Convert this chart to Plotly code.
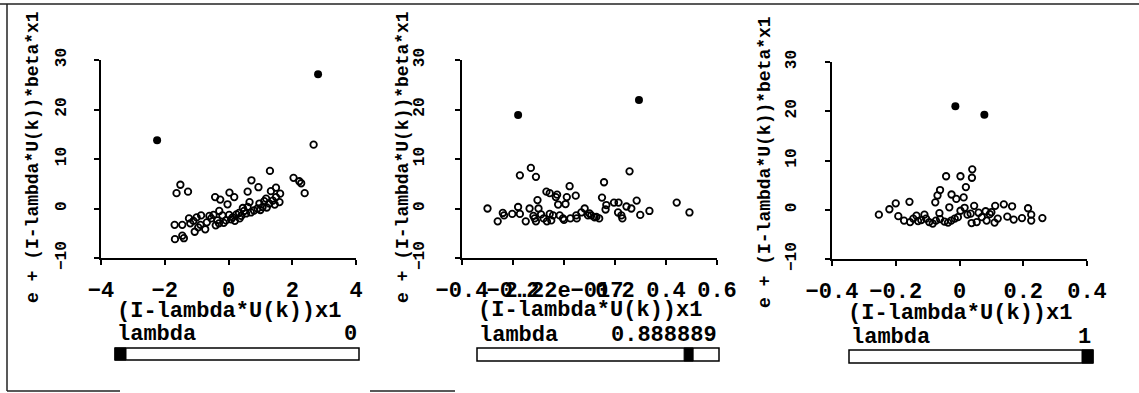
import plotly.graph_objects as go

W, H = 1139, 393
FONT = "Liberation Mono"

# ---------------- data ----------------
# panel 1 : lambda = 0
p1_open_x = [2.67, 1.30, 2.04, 2.22, 2.28, 2.39, -1.51, -1.63, -1.27, 0.72, 0.94, 0.60, 0.03, 0.18,
             -0.42, -0.26, -0.03, 1.33, 1.49, 1.62, -1.68, -1.45, -1.40, -1.69, -1.45, -1.24, -1.06,
             -1.00, -0.86, -0.73, -0.68, -0.40, -0.35, -0.47, -0.29, -0.19, -0.08, 0.02, 0.13, 0.25,
             0.33, 0.40, 0.49, 0.60, 0.66, 0.80, 0.91, 0.97, 1.07, 1.12, 1.18, 1.28, 1.39, 1.49, 1.60,
             -0.54, -0.88, -1.20, -1.10, -0.95, -0.60, -0.15, 0.08, 0.20, 0.35, 0.55, 0.70, 1.00, 1.20,
             1.45, -0.30, 0.45]
p1_open_y = [12.9, 7.6, 6.2, 5.5, 5.1, 3.1, 4.8, 3.1, 3.4, 5.7, 4.3, 3.4, 3.2, 2.3,
             2.3, 1.8, 0.85, 3.5, 4.2, 3.0, -6.2, -5.5, -6.0, -3.3, -3.3, -2.0, -4.7,
             -1.8, -1.4, -4.2, -2.8, -3.4, -2.4, -1.3, -0.5, -1.4, -2.4, -1.3, -1.8, -1.2,
             -0.9, -1.5, -0.5, 0.3, 1.3, -0.4, 0.0, 1.0, 0.3, 1.5, 2.0, 1.0, 1.6, 2.3, 1.3,
             -2.0, -3.3, -3.0, -2.5, -3.8, -1.5, -2.9, -2.2, -2.5, -2.0, -1.0, -0.8, -0.3, 0.2,
             0.8, -3.0, 0.1]
p1_fill_x = [-2.24, 2.81]
p1_fill_y = [13.8, 27.1]

# panel 2 : lambda = 0.888889
p2_open_x = [-0.30, -0.26, -0.24, -0.235, -0.203, -0.18, -0.173, -0.173, -0.13, -0.11, -0.15, -0.135,
             -0.115, -0.11, -0.104, -0.10, -0.09, -0.069, -0.056, -0.067, -0.056, -0.043, -0.032,
             -0.027, -0.023, -0.017, -0.004, 0.006, 0.011, 0.022, 0.025, 0.046, 0.048, 0.068, 0.081,
             0.094, 0.107, 0.127, 0.138, 0.149, 0.157, 0.166, 0.163, 0.196, 0.214, 0.212, 0.225,
             0.229, 0.245, 0.257, 0.264, 0.285, 0.299, 0.335, 0.442, 0.492, -0.08, 0.0, 0.05, 0.10,
             0.12, -0.12, -0.05]
p2_open_y = [0.0, -2.6, -0.9, -1.4, -1.1, 0.3, 6.7, -1.1, 8.2, 6.4, -2.6, 0.0,
             -2.0, -2.6, 1.7, 0.0, -1.2, 3.4, 3.1, -2.6, -1.1, -1.4, 2.3,
             2.8, 0.8, -1.4, -2.0, 0.9, 2.3, 4.5, -2.0, 2.6, -1.4, -0.8, 0.0,
             -1.4, -1.4, -1.7, -2.0, 2.2, 5.3, 0.7, -0.2, 1.2, 1.2, -0.8, -1.4,
             -2.0, 0.4, 7.5, 0.0, 1.6, -1.3, -0.5, 1.2, -0.8, -2.0, -2.3, -2.0, -1.0,
             -1.8, -1.5, -2.4]
p2_fill_x = [-0.18, 0.294]
p2_fill_y = [18.9, 21.9]

# panel 3 : lambda = 1
p3_open_x = [-0.253, -0.22, -0.20, -0.157, -0.192, -0.174, -0.155, -0.145, -0.135, -0.13, -0.12,
             -0.105, -0.095, -0.084, -0.074, -0.061, -0.047, -0.036, -0.026, -0.015, -0.076, -0.069,
             -0.061, -0.063, -0.042, 0.003, 0.040, 0.039, 0.020, -0.025, -0.010, 0.013, -0.032,
             0.003, 0.016, 0.035, 0.046, 0.060, 0.082, 0.095, 0.112, 0.139, 0.165, 0.215, 0.225,
             0.225, 0.26, 0.196, 0.17, 0.15, 0.085, 0.054, 0.038, 0.11, -0.005, 0.07, 0.025, 0.12,
             -0.11, 0.10]
p3_open_y = [-1.0, 0.1, 1.3, 1.6, -1.3, -2.2, -2.5, -1.8, -1.2, -2.3, -2.1,
             -1.8, -2.5, -2.8, -2.2, -1.9, -2.4, -2.6, -2.2, -1.8, 1.5, 2.9,
             4.0, -0.7, 6.8, 6.8, 8.2, 6.5, 4.6, 3.1, 2.2, 2.5, 0.5,
             -0.2, 0.4, -0.8, 0.8, -0.6, -0.3, -0.9, 0.8, 1.1, 0.7, 0.3, -1.0,
             -2.2, -1.7, -1.7, -2.0, -1.4, -2.2, -2.5, -2.7, -2.6, -1.5, -1.5, -1.0, -1.8,
             -1.0, -0.5]
p3_fill_x = [-0.013, 0.078]
p3_fill_y = [21.0, 19.3]

lambda_values = [0, 0.888889, 1]
lambda_labels = ["0", "0.888889", "1"]

x_ranges = [[-4, 4], [-0.4, 0.6], [-0.4, 0.4]]
x_tickvals = [[-4, -2, 0, 2, 4], [-0.4, -0.2, 0, 0.2, 0.4, 0.6], [-0.4, -0.2, 0, 0.2, 0.4]]
x_ticktext = [["−4", "−2", "0", "2", "4"],
              ["−0.4", "−0.2", "2.22e−017", "0.2", "0.4", "0.6"],
              ["−0.4", "−0.2", "0", "0.2", "0.4"]]
y_range = [-10, 30]
y_tickvals = [-10, 0, 10, 20, 30]
y_ticktext = ["−10", "0", "10", "20", "30"]
x_title = "(I-lambda*U(k))x1"
y_title = "e + (I-lambda*U(k))*beta*x1"
slider_name = "lambda"

# ---------------- layout geometry (pixels) ----------------
plots = [(101, 356, 60, 258), (462, 717, 60, 258), (832, 1087, 62, 259)]
ytick_standoff = [22, 25, 23]
ytitle_pos = [(33, 157), (403, 157), (765, 162)]
xtitle_y = [311, 310, 313]
sliders = [(115, 359, 348, 360), (477, 719, 348, 361), (849, 1093, 350, 363)]
thumb_w = [11, 9, 11]
slabel_y = [334, 335, 337]


def px(x):
    return x / W


def py(y):
    return 1 - y / H


opens = [(p1_open_x, p1_open_y), (p2_open_x, p2_open_y), (p3_open_x, p3_open_y)]
fills = [(p1_fill_x, p1_fill_y), (p2_fill_x, p2_fill_y), (p3_fill_x, p3_fill_y)]

fig = go.Figure()
layout = dict(template="none", width=W, height=H, margin=dict(l=0, r=0, t=0, b=0, pad=0),
              autosize=False, paper_bgcolor="white", plot_bgcolor="white", showlegend=False)
annotations = []
shapes = []

for i in range(3):
    n = "" if i == 0 else str(i + 1)
    l, r, t, b = plots[i]
    fig.add_trace(go.Scatter(x=opens[i][0], y=opens[i][1], mode="markers",
                             xaxis="x" + n, yaxis="y" + n,
                             marker=dict(symbol="circle-open", size=6.5, color="black",
                                         line=dict(width=1.8, color="black"))))
    fig.add_trace(go.Scatter(x=fills[i][0], y=fills[i][1], mode="markers",
                             xaxis="x" + n, yaxis="y" + n,
                             marker=dict(symbol="circle", size=8, color="black")))
    layout["xaxis" + n] = dict(domain=[px(l), px(r)], anchor="y" + n, range=x_ranges[i],
                               automargin=False,
                               tickmode="array", tickvals=x_tickvals[i], ticktext=x_ticktext[i],
                               tickangle=0, ticks="outside", ticklen=5, tickwidth=1.5,
                               tickcolor="black", showline=True, linewidth=2, linecolor="black",
                               showgrid=False, zeroline=False, ticklabelstandoff=6,
                               tickfont=dict(family=FONT, size=22, color="black", weight="bold"))
    layout["yaxis" + n] = dict(domain=[py(b), py(t)], anchor="x" + n, range=y_range,
                               automargin=False,
                               tickmode="array", tickvals=y_tickvals, ticktext=y_ticktext,
                               tickangle=-90, ticks="outside", ticklen=5, tickwidth=1.5,
                               tickcolor="black", showline=True, linewidth=2, linecolor="black",
                               showgrid=False, zeroline=False, ticklabelstandoff=ytick_standoff[i],
                               tickfont=dict(family=FONT, size=16, color="black", weight="bold"))
    # axis titles
    annotations.append(dict(x=px((l + r) / 2), y=py(xtitle_y[i]), xref="paper", yref="paper",
                            text="<b>" + x_title + "</b>", showarrow=False,
                            xanchor="center", yanchor="middle",
                            font=dict(family=FONT, size=22, color="black")))
    annotations.append(dict(x=px(ytitle_pos[i][0]), y=py(ytitle_pos[i][1]), xref="paper",
                            yref="paper", text="<b>" + y_title + "</b>", showarrow=False,
                            textangle=-90, xanchor="center", yanchor="middle",
                            font=dict(family=FONT, size=18, color="black")))
    # slider
    sl, sr, st, sb = sliders[i]
    annotations.append(dict(x=px(sl), y=py(slabel_y[i]), xref="paper", yref="paper",
                            text="<b>" + slider_name + "</b>", showarrow=False,
                            xanchor="left", yanchor="middle",
                            font=dict(family=FONT, size=22, color="black")))
    annotations.append(dict(x=px(sr), y=py(slabel_y[i]), xref="paper", yref="paper",
                            text="<b>" + lambda_labels[i] + "</b>", showarrow=False,
                            xanchor="right", yanchor="middle",
                            font=dict(family=FONT, size=22, color="black")))
    shapes.append(dict(type="rect", xref="paper", yref="paper", x0=px(sl), x1=px(sr),
                       y0=py(sb), y1=py(st), fillcolor="white",
                       line=dict(color="black", width=1.5)))
    tl = sl + lambda_values[i] * (sr - sl - thumb_w[i])
    shapes.append(dict(type="rect", xref="paper", yref="paper", x0=px(tl), x1=px(tl + thumb_w[i]),
                       y0=py(sb), y1=py(st), fillcolor="black", line=dict(color="black", width=1)))

# frame lines
for (x0, y0, x1, y1) in [(0, 4, W, 4), (7, 4, 7, 391), (7, 391, 120, 391), (370, 391, 455, 391)]:
    shapes.append(dict(type="line", xref="paper", yref="paper", x0=px(x0), y0=py(y0),
                       x1=px(x1), y1=py(y1), line=dict(color="#222", width=1.5)))

layout["annotations"] = annotations
layout["shapes"] = shapes
fig.update_layout(**layout)
fig.write_html("out.html")
